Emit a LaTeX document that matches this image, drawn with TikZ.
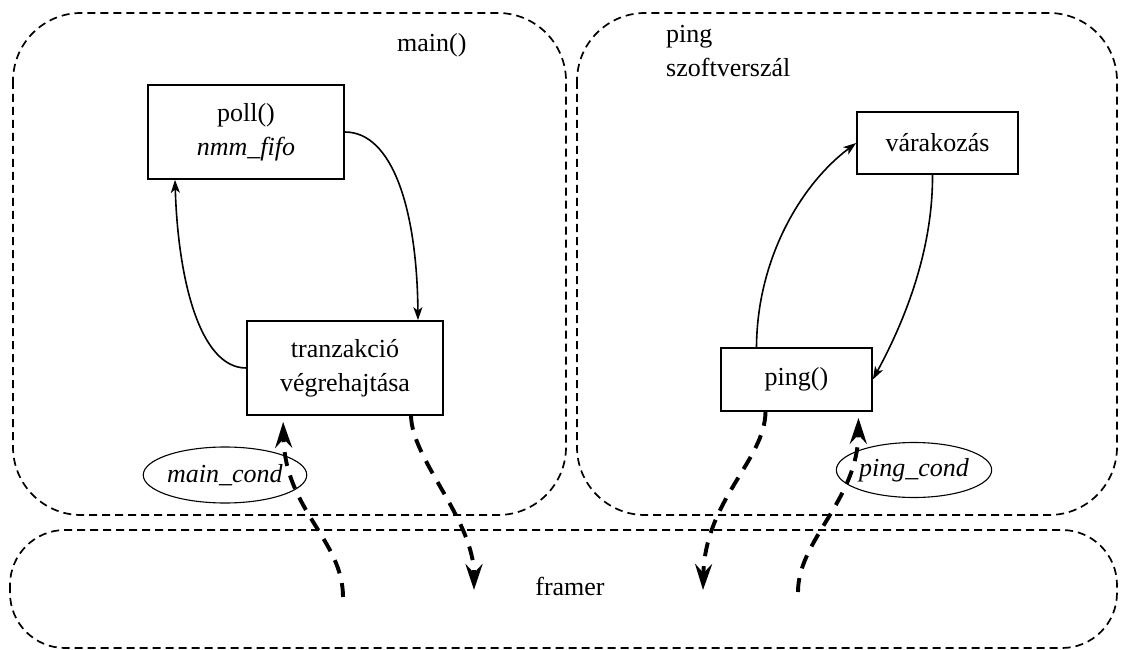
\documentclass[tikz,border=0pt]{standalone}
\usepackage{fontspec}
\setmainfont{Liberation Serif}
\usetikzlibrary{arrows.meta,shapes.geometric}

\begin{document}
\begin{tikzpicture}[
  x=1pt, y=-1pt,
  every node/.style={font=\fontsize{26}{34}\selectfont},
  container/.style={draw, line width=1.7pt, dash pattern=on 8pt off 5pt},
  stepbox/.style={draw, line width=1.7pt, align=center},
  condnode/.style={draw, ellipse, line width=1.1pt, inner sep=0pt},
  txt/.style={inner sep=0pt},
  flow/.style={line width=1.6pt, -{Stealth[length=13pt,width=9pt,inset=3.5pt]}},
  signal/.style={line width=3.9pt, dash pattern=on 14pt off 10pt,
                 -{Stealth[length=26pt,width=17pt,inset=9pt]}}
]
\useasboundingbox (0,0) rectangle (1128,650);

% thread / module outlines
\draw[container, rounded corners=68pt] (13,13) rectangle (566,515);
\draw[container, rounded corners=68pt] (577,13) rectangle (1117,515);
\draw[container, rounded corners=55pt] (10,530) rectangle (1117,648);

% outline labels
\node[txt, anchor=base west] (mainlbl) at (397,52) {main()};
\node[txt, anchor=base west, text width=160pt, align=left] (pinglbl) at (666,43) {ping\\szoftverszál};
\node[txt, anchor=base] (framerlbl) at (570,595) {framer};

% main loop
\node[stepbox, minimum width=196pt, minimum height=94pt] (poll) at (246,132) {poll()\\\textit{nmm\_fifo}};
\node[stepbox, minimum width=196pt, minimum height=94pt] (tranz) at (345,368) {tranzakció\\végrehajtása};

% ping thread loop
\node[stepbox, minimum width=161pt, minimum height=62pt] (wait) at (937.5,143) {várakozás};
\node[stepbox, minimum width=151pt, minimum height=63pt] (ping) at (796.5,379.5) {ping()};

% condition variables
\node[condnode, minimum width=154pt, minimum height=56pt] (mcond) at (225,475) {\textit{main\_cond}};
\node[condnode, minimum width=152pt, minimum height=55pt] (pcond) at (914,470) {\textit{ping\_cond}};

% ends inside the framer area
\coordinate (fmsrc) at (343,597);
\coordinate (fmdst) at (474,590);
\coordinate (fpdst) at (703,590);
\coordinate (fpsrc) at (798,592);

% control flow
\draw[flow] (poll.east) .. controls (392,132) and (417,208) .. ([xshift=73pt]tranz.north);
\draw[flow] (tranz.west) .. controls (200,368) and (178,280) .. ([xshift=-71pt]poll.south);
\draw[flow] ([xshift=-40pt]ping.north) .. controls (757,260) and (800,185) .. (wait.west);
\draw[flow] ([xshift=-5pt]wait.south) .. controls (933,260) and (897,335) .. (ping.east);

% signalling between threads
\draw[signal, shorten >=6pt] (fmsrc) .. controls (343,540) and (285,510) .. ([xshift=-62pt]tranz.south);
\draw[signal] ([xshift=66pt]tranz.south) .. controls (412,460) and (474,520) .. (fmdst);
\draw[signal] ([xshift=-31pt]ping.south) .. controls (765,460) and (705,500) .. (fpdst);
\draw[signal, shorten >=6pt] (fpsrc) .. controls (798,540) and (858,500) .. ([xshift=62pt]ping.south);
\end{tikzpicture}
\end{document}
